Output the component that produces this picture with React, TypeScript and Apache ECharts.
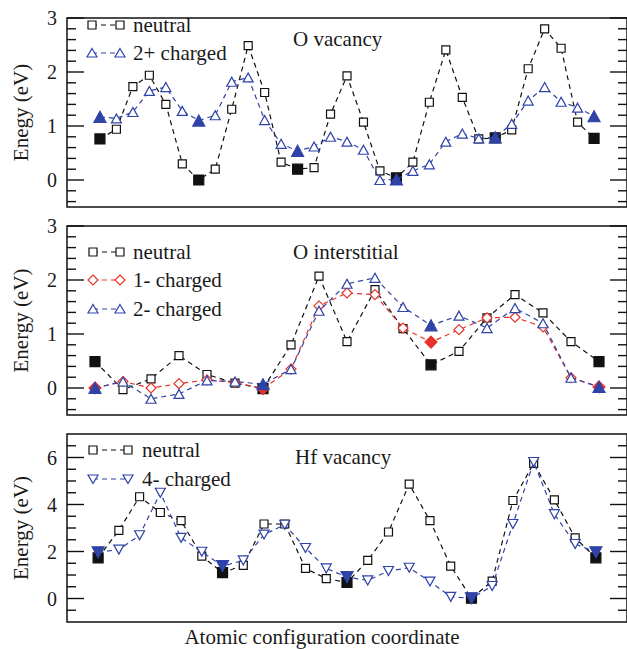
import React, { useEffect, useRef } from 'react';
import * as echarts from 'echarts';

// ---------- data ----------
const oVacNeutral = [0.76, 0.94, 1.73, 1.94, 1.40, 0.30, 0.00, 0.20, 1.31, 2.49, 1.62, 0.33, 0.20, 0.23, 1.22, 1.93, 1.07, 0.17, 0.04, 0.33, 1.44, 2.41, 1.53, 0.76, 0.78, 0.93, 2.06, 2.80, 2.44, 1.07, 0.77];
const oVac2plus = [1.17, 1.14, 1.26, 1.65, 1.72, 1.28, 1.10, 1.20, 1.82, 1.90, 1.11, 0.67, 0.54, 0.62, 0.80, 0.71, 0.56, 0.00, 0.01, 0.17, 0.29, 0.71, 0.86, 0.77, 0.79, 1.04, 1.47, 1.72, 1.45, 1.34, 1.18];
const oVacFilled = [0, 6, 12, 18, 24, 30];

const oIntNeutral = [0.49, -0.03, 0.17, 0.60, 0.25, 0.09, -0.01, 0.80, 2.07, 0.86, 1.82, 1.10, 0.43, 0.68, 1.30, 1.73, 1.39, 0.86, 0.49];
const oInt1minus = [0.00, 0.12, 0.00, 0.08, 0.15, 0.10, -0.01, 0.35, 1.52, 1.76, 1.73, 1.11, 0.85, 1.08, 1.30, 1.31, 1.13, 0.19, 0.02];
const oInt2minus = [0.00, 0.12, -0.20, -0.11, 0.14, 0.12, 0.07, 0.35, 1.43, 1.93, 2.04, 1.50, 1.16, 1.34, 1.11, 1.48, 1.20, 0.19, 0.02];
const oIntFilled = [0, 6, 12, 18];

const hfNeutral = [1.73, 2.90, 4.33, 3.66, 3.31, 1.80, 1.10, 1.41, 3.17, 3.17, 1.28, 0.85, 0.68, 1.62, 2.83, 4.87, 3.31, 1.38, 0.01, 0.74, 4.17, 5.75, 4.20, 2.58, 1.73];
const hf4minus = [1.97, 2.08, 2.69, 4.50, 2.58, 1.99, 1.38, 1.62, 2.72, 3.14, 2.15, 1.28, 0.91, 0.77, 1.17, 1.31, 0.72, 0.07, 0.01, 0.53, 3.17, 5.81, 3.59, 2.32, 1.97];
const hfFilled = [0, 6, 12, 18, 24];

const majorTicksO = [0, 1, 2, 3];
const minorTicksO = [-0.4, -0.2, 0.2, 0.4, 0.6, 0.8, 1.2, 1.4, 1.6, 1.8, 2.2, 2.4, 2.6, 2.8];
const majorTicksHf = [0, 2, 4, 6];
const minorTicksHf = [-0.5, 0.5, 1, 1.5, 2.5, 3, 3.5, 4.5, 5, 5.5, 6.5];

const panelTitles = ['O vacancy', 'O interstitial', 'Hf vacancy'];
const yNames = ['Enegy (eV)', 'Energy (eV)', 'Energy (eV)'];
const xTitle = 'Atomic configuration coordinate';

// ---------- styles ----------
const BLACK = '#111111';
const BLUE = '#2f43a8';
const RED = '#e5332b';
const TEXT = '#1a1a1a';
const FONT = 'Liberation Serif';

const grids = [
  { top: 18, height: 189 },
  { top: 226, height: 189 },
  { top: 434, height: 188 },
];
const GRID_LEFT = 67;
const GRID_WIDTH = 562;
const MAJOR_LEN = 17;
const MINOR_LEN = 9;

const xRanges = [[-2, 32], [-1, 19], [-1.5, 25.5]];
const yRanges = [[-0.5, 3], [-0.5, 3], [-1, 7]];
const majors = [majorTicksO, majorTicksO, majorTicksHf];
const minors = [minorTicksO, minorTicksO, minorTicksHf];

function mkSeries(values: number[], filled: number[], g: number, color: string, symbol: string, size: any, filledSize: any, rotate: number, z: number) {
  return {
    type: 'line',
    xAxisIndex: g,
    yAxisIndex: g,
    data: values.map((v, i) =>
      filled.includes(i)
        ? { value: [i, v], symbolSize: filledSize, itemStyle: { color, borderColor: color } }
        : { value: [i, v] }
    ),
    symbol,
    symbolSize: size,
    symbolRotate: rotate,
    showSymbol: true,
    showAllSymbol: true,
    lineStyle: { color, width: 1.2, type: [5, 4] },
    itemStyle: { color: '#ffffff', borderColor: color, borderWidth: 1.2 },
    z,
    silent: true,
  };
}

function marker(shape: string, cx: number, cy: number, color: string) {
  const style = { fill: '#ffffff', stroke: color, lineWidth: 1.2 };
  if (shape === 'rect') return { type: 'rect', shape: { x: cx - 4, y: cy - 4, width: 8, height: 8 }, style, z: 10 };
  if (shape === 'up') return { type: 'polygon', shape: { points: [[cx, cy - 4.5], [cx + 5, cy + 4], [cx - 5, cy + 4]] }, style, z: 10 };
  if (shape === 'down') return { type: 'polygon', shape: { points: [[cx, cy + 4.5], [cx + 5, cy - 4], [cx - 5, cy - 4]] }, style, z: 10 };
  return { type: 'polygon', shape: { points: [[cx, cy - 5], [cx + 5, cy], [cx, cy + 5], [cx - 5, cy]] }, style, z: 10 };
}

function legendRow(x1: number, x2: number, y: number, color: string, shape: string, label: string, tx: number) {
  return [
    { type: 'line', shape: { x1, y1: y, x2, y2: y }, style: { stroke: color, lineWidth: 1.2, lineDash: [5, 4] }, z: 9 },
    marker(shape, x1, y, color),
    marker(shape, x2, y, color),
    { type: 'text', x: tx, y, style: { text: label, fontSize: 21, fontFamily: FONT, fill: TEXT, verticalAlign: 'middle', align: 'left' }, z: 10 },
  ];
}

export default function App() {
  const ref = useRef<HTMLDivElement>(null);

  useEffect(() => {
    if (!ref.current) return;
    const chart = echarts.init(ref.current, undefined, { renderer: 'svg' });

    const yAxes = [0, 1, 2].map((g) => ({
      gridIndex: g,
      type: 'value',
      min: yRanges[g][0],
      max: yRanges[g][1],
      position: 'left',
      splitNumber: 4,
      axisLine: { show: false, onZero: false },
      axisTick: { show: false },
      splitLine: { show: false },
      minorTick: { show: false },
      axisLabel: {
        show: true,
        margin: 10,
        fontSize: 20,
        fontFamily: FONT,
        color: TEXT,
        showMinLabel: true,
        showMaxLabel: true,
        formatter: (v: number) => (majors[g].includes(Math.round(v * 1000) / 1000) ? String(Math.round(v)) : ''),
      },
      name: yNames[g],
      nameLocation: 'middle',
      nameGap: 36,
      nameTextStyle: { fontSize: 21, fontFamily: FONT, color: TEXT },
    }));

    const xAxes = [0, 1, 2].map((g) => ({
      gridIndex: g,
      type: 'value',
      min: xRanges[g][0],
      max: xRanges[g][1],
      axisLine: { show: false, onZero: false },
      axisTick: { show: false },
      axisLabel: { show: false },
      splitLine: { show: false },
    }));

    const series: any[] = [
      mkSeries(oVacNeutral, oVacFilled, 0, BLACK, 'rect', 8, 10, 0, 2),
      mkSeries(oVac2plus, oVacFilled, 0, BLUE, 'triangle', [10, 9], [12, 11], 0, 3),
      mkSeries(oIntNeutral, oIntFilled, 1, BLACK, 'rect', 8, 10, 0, 2),
      mkSeries(oInt1minus, oIntFilled, 1, RED, 'diamond', [10, 10], [12, 12], 0, 3),
      mkSeries(oInt2minus, oIntFilled, 1, BLUE, 'triangle', [10, 9], [12, 11], 0, 4),
      mkSeries(hfNeutral, hfFilled, 2, BLACK, 'rect', 8, 10, 0, 2),
      mkSeries(hf4minus, hfFilled, 2, BLUE, 'triangle', [10, 9], [12, 11], 180, 3),
    ];

    const baseGraphic: any[] = [
      ...legendRow(92, 120, 25, BLACK, 'rect', 'neutral', 133),
      ...legendRow(92, 120, 53, BLUE, 'up', '2+ charged', 133),
      ...legendRow(93, 120, 252, BLACK, 'rect', 'neutral', 133),
      ...legendRow(93, 120, 280, RED, 'diamond', '1- charged', 133),
      ...legendRow(93, 120, 309, BLUE, 'up', '2- charged', 133),
      ...legendRow(93, 128, 450, BLACK, 'rect', 'neutral', 142),
      ...legendRow(93, 128, 479, BLUE, 'down', '4- charged', 142),
      { type: 'text', x: 293, y: 39, style: { text: panelTitles[0], fontSize: 21, fontFamily: FONT, fill: TEXT, verticalAlign: 'middle' } },
      { type: 'text', x: 293, y: 252, style: { text: panelTitles[1], fontSize: 21, fontFamily: FONT, fill: TEXT, verticalAlign: 'middle' } },
      { type: 'text', x: 295, y: 457, style: { text: panelTitles[2], fontSize: 21, fontFamily: FONT, fill: TEXT, verticalAlign: 'middle' } },
      { type: 'text', x: 322, y: 637, style: { text: xTitle, fontSize: 21, fontFamily: FONT, fill: TEXT, align: 'center', verticalAlign: 'middle' } },
    ];

    chart.setOption({
      animation: false,
      backgroundColor: '#ffffff',
      textStyle: { fontFamily: FONT },
      grid: grids.map((gr) => ({
        left: GRID_LEFT,
        width: GRID_WIDTH,
        top: gr.top,
        height: gr.height,
        show: true,
        borderColor: BLACK,
        borderWidth: 1.5,
        backgroundColor: 'transparent',
      })),
      xAxis: xAxes,
      yAxis: yAxes,
      series,
      graphic: baseGraphic,
    });

    // pixel position of a value on the frame edge, from the chart's own axis scales
    const toPx = (g: number, x: number, v: number): number[] => {
      let p: any = null;
      try {
        p = chart.convertToPixel({ xAxisIndex: g, yAxisIndex: g } as any, [x, v]);
      } catch (e) {
        p = null;
      }
      if (!p || !isFinite(p[0]) || !isFinite(p[1])) {
        const [xmin, xmax] = xRanges[g];
        const [ymin, ymax] = yRanges[g];
        p = [
          GRID_LEFT + ((x - xmin) / (xmax - xmin)) * GRID_WIDTH,
          grids[g].top + ((ymax - v) / (ymax - ymin)) * grids[g].height,
        ];
      }
      return p;
    };

    const tickEls: any[] = [];
    [0, 1, 2].forEach((g) => {
      const [xmin, xmax] = xRanges[g];
      const add = (v: number, len: number) => {
        const pl = toPx(g, xmin, v);
        const pr = toPx(g, xmax, v);
        tickEls.push({ type: 'rect', z: 50, silent: true, shape: { x: pl[0], y: pl[1] - 0.7, width: len, height: 1.4 }, style: { fill: BLACK } });
        tickEls.push({ type: 'rect', z: 50, silent: true, shape: { x: pr[0] - len, y: pr[1] - 0.7, width: len, height: 1.4 }, style: { fill: BLACK } });
      };
      majors[g].forEach((v) => add(v, MAJOR_LEN));
      minors[g].forEach((v) => add(v, MINOR_LEN));
    });

    chart.setOption({ graphic: [...baseGraphic, ...tickEls] });

    return () => chart.dispose();
  }, []);

  return <div ref={ref} style={{ position: 'absolute', left: 0, top: 0, width: 627, height: 650 }} />;
}
